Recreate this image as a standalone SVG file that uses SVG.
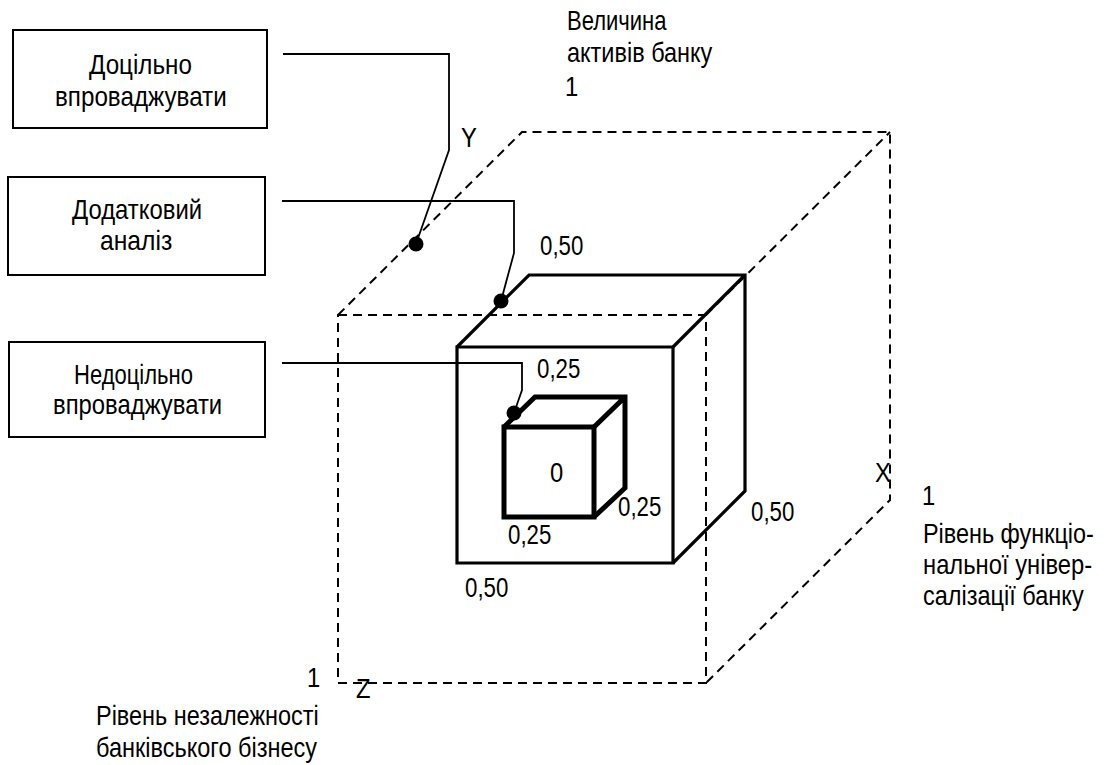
<svg xmlns="http://www.w3.org/2000/svg" width="1104" height="765" viewBox="0 0 1104 765">
<style>
text{font-family:"Liberation Sans",Arial,sans-serif;font-size:28px;fill:#000}
.box{fill:#fff;stroke:#000;stroke-width:2}
.dash{fill:none;stroke:#000;stroke-width:2;stroke-dasharray:9 6}
.mid{fill:none;stroke:#000;stroke-width:3.2;stroke-linejoin:miter}
.small{fill:none;stroke:#000;stroke-width:5;stroke-linejoin:miter}
.conn{fill:none;stroke:#000;stroke-width:1.8}
</style>
<rect width="1104" height="765" fill="#fff"/>
<g id="outer-cube">
<path class="dash" d="M338,315 H706 V683 H338 Z"/>
<path class="dash" d="M338,315 L522,132 H890 V500 L706,683"/>
<path class="dash" d="M706,315 L890,132"/>
</g>
<g id="mid-cube">
<rect x="457" y="347" width="216" height="216" fill="#fff" stroke="none"/>
<path class="mid" d="M457,347 H673 V563 H457 Z"/>
<path class="mid" d="M457,347 L529,275 H745 V491 L673,563 M673,347 L745,275"/>
</g>
<g id="small-cube">
<path class="small" d="M504,427 H594 V517 H504 Z"/>
<path class="small" d="M504,427 L535,397 H625 V488 L594,517 M594,427 L625,397"/>
</g>
<g id="node-dotsilno">
<rect class="box" x="13" y="30" width="254" height="98"/>
<text transform="translate(89 74) scale(0.85 1)" textLength="121" lengthAdjust="spacingAndGlyphs">Доцільно</text>
<text transform="translate(55 106) scale(0.85 1)" textLength="202" lengthAdjust="spacingAndGlyphs">впроваджувати</text>
</g>
<g id="node-dodatkovyi">
<rect class="box" x="8" y="177" width="257" height="98"/>
<text transform="translate(72 219) scale(0.85 1)" textLength="153" lengthAdjust="spacingAndGlyphs">Додатковий</text>
<text transform="translate(100 250) scale(0.85 1)" textLength="85" lengthAdjust="spacingAndGlyphs">аналіз</text>
</g>
<g id="node-nedotsilno">
<rect class="box" x="9" y="342" width="256" height="95"/>
<text transform="translate(74 384) scale(0.85 1)" textLength="140" lengthAdjust="spacingAndGlyphs">Недоцільно</text>
<text transform="translate(53 414) scale(0.85 1)" textLength="199" lengthAdjust="spacingAndGlyphs">впроваджувати</text>
</g>
<g id="connectors">
<path class="conn" d="M283,54 H449 V150 L416,244"/>
<path class="conn" d="M282,201 H514 V253 L501,301"/>
<path class="conn" d="M282,363 H522 V390 L514,413"/>
<circle cx="416" cy="244" r="7.5"/>
<circle cx="501" cy="301" r="7.5"/>
<circle cx="514" cy="413" r="7.5"/>
</g>
<g id="labels">
<text transform="translate(567 30) scale(0.85 1)" textLength="117" lengthAdjust="spacingAndGlyphs">Величина</text>
<text transform="translate(567 62) scale(0.85 1)" textLength="171" lengthAdjust="spacingAndGlyphs">активів банку</text>
<text transform="translate(565 96) scale(0.85 1)">1</text>
<text transform="translate(461 147) scale(0.85 1)">Y</text>
<text transform="translate(540 255) scale(0.85 1)" textLength="51" lengthAdjust="spacingAndGlyphs">0,50</text>
<text transform="translate(537 378) scale(0.85 1)" textLength="51" lengthAdjust="spacingAndGlyphs">0,25</text>
<text transform="translate(550 482) scale(0.85 1)">0</text>
<text transform="translate(618 516) scale(0.85 1)" textLength="51" lengthAdjust="spacingAndGlyphs">0,25</text>
<text transform="translate(508 544) scale(0.85 1)" textLength="51" lengthAdjust="spacingAndGlyphs">0,25</text>
<text transform="translate(751 521) scale(0.85 1)" textLength="51" lengthAdjust="spacingAndGlyphs">0,50</text>
<text transform="translate(465 597) scale(0.85 1)" textLength="51" lengthAdjust="spacingAndGlyphs">0,50</text>
<text transform="translate(875 482) scale(0.85 1)">X</text>
<text transform="translate(922 505) scale(0.85 1)">1</text>
<text transform="translate(923 543) scale(0.85 1)" textLength="201" lengthAdjust="spacingAndGlyphs">Рівень функціо-</text>
<text transform="translate(923 574) scale(0.85 1)" textLength="199" lengthAdjust="spacingAndGlyphs">нальної універ-</text>
<text transform="translate(923 605) scale(0.85 1)" textLength="189" lengthAdjust="spacingAndGlyphs">салізації банку</text>
<text transform="translate(307 687) scale(0.85 1)">1</text>
<text transform="translate(356 698) scale(0.85 1)">Z</text>
<text transform="translate(96 725) scale(0.85 1)" textLength="262" lengthAdjust="spacingAndGlyphs">Рівень незалежності</text>
<text transform="translate(96 757) scale(0.85 1)" textLength="260" lengthAdjust="spacingAndGlyphs">банківського бізнесу</text>
</g>
</svg>
